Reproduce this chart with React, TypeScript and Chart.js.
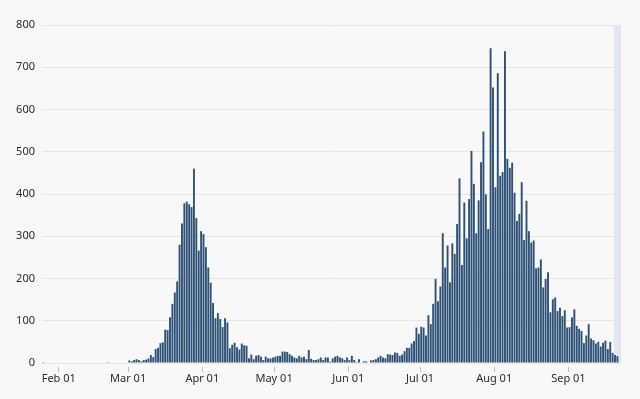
import React, { useEffect, useRef } from 'react';
import { Chart, registerables } from 'chart.js';

Chart.register(...registerables);

// Daily values, one array per month (Jan starts on the 25th)
const valuesJan = [2, 0, 0, 0, 0, 0, 0];
const valuesFeb = [
  0, 0, 0, 0, 0, 0, 0, 0, 0, 0,
  0, 0, 0, 0, 0, 0, 0, 0, 0, 0,
  2, 0, 0, 0, 0, 0, 0, 0, 0,
];
const valuesMar = [
  6, 4, 7, 9, 7, 4, 7, 8, 11, 19,
  14, 33, 36, 47, 49, 79, 78, 108, 140, 167,
  193, 280, 330, 378, 382, 376, 369, 460, 343, 266,
  312,
];
const valuesApr = [
  305, 274, 226, 190, 142, 106, 118, 104, 85, 106,
  96, 35, 43, 48, 37, 32, 46, 42, 41, 11,
  20, 9, 17, 19, 15, 7, 15, 11, 11, 13,
];
const valuesMay = [
  15, 17, 17, 27, 27, 26, 21, 17, 13, 11,
  17, 13, 15, 9, 31, 10, 7, 7, 9, 13,
  7, 13, 13, 3, 11, 15, 17, 13, 11, 7,
  13,
];
const valuesJun = [
  7, 17, 7, 2, 9, 0, 4, 4, 0, 6,
  7, 9, 13, 17, 13, 11, 21, 20, 19, 25,
  24, 17, 20, 28, 36, 36, 46, 52, 84, 69,
];
const valuesJul = [
  86, 84, 65, 113, 92, 140, 199, 146, 181, 307,
  226, 278, 191, 283, 258, 329, 437, 232, 380, 295,
  388, 502, 424, 307, 385, 475, 548, 399, 317, 745,
  652,
];
const valuesAug = [
  416, 686, 443, 452, 738, 483, 462, 474, 403, 336,
  353, 428, 291, 384, 312, 285, 290, 224, 226, 245,
  179, 199, 215, 120, 151, 155, 123, 131, 111, 125,
  84,
];
const valuesSep = [
  85, 108, 127, 88, 81, 76, 47, 65, 92, 58,
  54, 46, 50, 39, 48, 53, 33, 50, 24, 19,
  16, null,
];

const monthNames = ['Jan', 'Feb', 'Mar', 'Apr', 'May', 'Jun', 'Jul', 'Aug', 'Sep'];
const monthValues = [valuesJan, valuesFeb, valuesMar, valuesApr, valuesMay, valuesJun, valuesJul, valuesAug, valuesSep];
const monthFirstDay = [25, 1, 1, 1, 1, 1, 1, 1, 1];

// Shaded (incomplete data) period
const shadeFrom = 'Sep 20';
const shadeTo = 'Sep 22';

const yMin = 0;
const yMax = 800;
const yStep = 100;

const labels: string[] = [];
const values: (number | null)[] = [];
monthValues.forEach((arr, m) => {
  arr.forEach((v, i) => {
    const day = monthFirstDay[m] + i;
    labels.push(`${monthNames[m]} ${String(day).padStart(2, '0')}`);
    values.push(v);
  });
});

const isMonthStart = (i: number) => !!labels[i] && labels[i].endsWith(' 01');

const FONT = { family: '"Noto Sans", sans-serif', size: 11 };
const TEXT = '#2b2b2b';

const shadePlugin = {
  id: 'shadeBand',
  beforeDatasetsDraw(chart: any) {
    const xs = chart.scales.x;
    const a = labels.indexOf(shadeFrom);
    const b = labels.indexOf(shadeTo);
    if (a < 0 || b < 0) return;
    const half = (xs.getPixelForValue(1) - xs.getPixelForValue(0)) / 2;
    const left = xs.getPixelForValue(a) - half;
    const right = xs.getPixelForValue(b) + half;
    const { top, bottom } = chart.chartArea;
    const ctx = chart.ctx;
    ctx.save();
    ctx.fillStyle = '#e3e5f0';
    ctx.fillRect(left, top, right - left, bottom - top);
    ctx.restore();
  },
};

export default function App() {
  const ref = useRef<HTMLCanvasElement | null>(null);

  useEffect(() => {
    document.body.style.margin = '0';
    document.body.style.background = '#f8f8f8';
    if (!ref.current) return;
    const chart = new Chart(ref.current, {
      type: 'bar',
      data: {
        labels,
        datasets: [
          {
            data: values,
            backgroundColor: '#2e5277',
            borderWidth: 0,
            barPercentage: 0.8,
            categoryPercentage: 1.0,
          },
        ],
      },
      options: {
        responsive: false,
        animation: false,
        layout: { padding: { top: 25, right: 19, bottom: 0, left: 0 } },
        plugins: {
          legend: { display: false },
          tooltip: { enabled: false },
        },
        scales: {
          x: {
            type: 'category',
            offset: true,
            border: { display: false },
            grid: {
              offset: true,
              drawOnChartArea: false,
              drawTicks: true,
              tickLength: 9,
              tickWidth: 1,
              tickBorderDash: [0, 4, 5, 20],
              tickColor: (ctx: any) => (isMonthStart(ctx.index) ? '#bdbdbd' : 'rgba(0,0,0,0)'),
            },
            ticks: {
              autoSkip: false,
              maxRotation: 0,
              minRotation: 0,
              padding: 0,
              labelOffset: -1.2,
              color: TEXT,
              font: FONT,
              callback: (_v: any, i: number) => (isMonthStart(i) ? labels[i] : ''),
            },
            afterFit: (scale: any) => {
              scale.height = 36;
            },
          },
          y: {
            min: yMin,
            max: yMax,
            border: { display: false },
            grid: { color: '#e6e6e6', drawTicks: false, lineWidth: 1 },
            ticks: {
              stepSize: yStep,
              padding: 7,
              color: TEXT,
              font: FONT,
            },
            afterFit: (scale: any) => {
              scale.width = 42;
            },
          },
        },
      },
      plugins: [shadePlugin],
    });
    return () => chart.destroy();
  }, []);

  return (
    <div style={{ width: 640, height: 399, background: '#f8f8f8' }}>
      <canvas ref={ref} width={640} height={399} style={{ display: 'block' }} />
    </div>
  );
}
